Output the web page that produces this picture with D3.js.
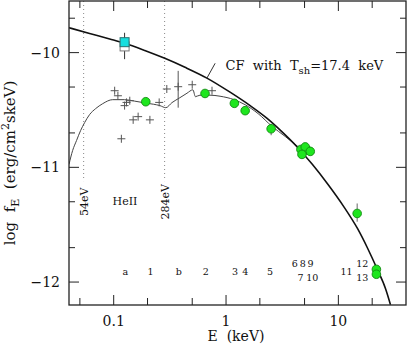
<!DOCTYPE html>
<html>
<head>
<meta charset="utf-8">
<script src="https://cdn.jsdelivr.net/npm/d3@7"></script>
<style>
  body { margin: 0; background: #fff; }
  svg { display: block; }
  text { font-family: "DejaVu Serif", serif; fill: #111; white-space: pre; }
</style>
</head>
<body>
<div id="chart"></div>
<script>
// CF model curve (thick)
const cfE    = [0.04, 0.061, 0.0921, 0.123, 0.189, 0.285, 0.431, 0.676, 1.086, 1.638, 2.307, 3.035, 4.30, 5.86, 7.97, 11.09, 14.79, 18.16, 22.3, 26.3, 29.1];
const cfLogF = [-9.783, -9.833, -9.881, -9.916, -9.981, -10.050, -10.128, -10.222, -10.345, -10.462, -10.571, -10.675, -10.822, -10.974, -11.141, -11.338, -11.533, -11.703, -11.893, -12.058, -12.197];

// absorbed model (thin)
const modelE    = [0.04, 0.0431, 0.0467, 0.0508, 0.0551, 0.061, 0.0691, 0.0798, 0.098, 0.125, 0.154, 0.197, 0.258, 0.291, 0.330, 0.388, 0.449, 0.507, 0.534, 0.586, 0.719, 0.884, 1.178, 1.479, 1.931, 2.576, 3.364, 4.58];
const modelLogF = [-10.974, -10.853, -10.766, -10.678, -10.610, -10.540, -10.488, -10.445, -10.410, -10.410, -10.423, -10.441, -10.462, -10.480, -10.436, -10.393, -10.354, -10.324, -10.384, -10.371, -10.371, -10.380, -10.410, -10.454, -10.532, -10.644, -10.731, -10.835];

// soft X-ray points (crosses)
const softE    = [0.102, 0.109, 0.130, 0.139, 0.125, 0.149, 0.165, 0.210, 0.254, 0.117, 0.297, 0.375, 0.50, 0.75];
const softLogF = [-10.332, -10.376, -10.434, -10.419, -10.462, -10.586, -10.558, -10.586, -10.434, -10.751, -10.317, -10.297, -10.280, -10.332];
const softErrLo = [null, null, null, null, null, null, null, null, null, null, null, -10.48, null, null];
const softErrHi = [null, null, null, null, null, null, null, null, null, null, null, -10.159, null, null];

// observed fluxes (green circles)
const obsE     = [0.193, 0.65, 1.186, 1.48, 2.52, 5.3, 4.64, 5.07, 5.62, 4.74, 14.7, 21.8, 21.8];
const obsLogF  = [-10.428, -10.356, -10.442, -10.506, -10.664, -10.85, -10.844, -10.822, -10.861, -10.887, -11.402, -11.889, -11.932];
const obsErrLo = [null, null, null, null, -10.72, null, null, null, null, null, -11.474, null, null];
const obsErrHi = [null, null, null, null, -10.62, null, null, null, null, null, -11.315, null, null];

// EUV point (cyan / open square)
const euveE = [0.125];
const euveLogF = [-9.909];
const euveOpenLogF = [-9.946];
const euveErrLo = [-10.057];
const euveErrHi = [-9.827];

// absorption edges
const edgeE = [0.054, 0.284];
const edgeLabels = ["54eV", "284eV"];

// band labels along the bottom
const bandLabels = ["a", "1", "b", "2", "3", "4", "5", "6", "8", "9", "7", "10", "11", "12", "13"];
const bandE      = [0.127, 0.213, 0.38, 0.66, 1.20, 1.48, 2.47, 4.10, 4.82, 5.65, 4.60, 5.85, 11.8, 16.3, 16.3];
const bandLogF   = [-11.908, -11.908, -11.908, -11.908, -11.908, -11.908, -11.908, -11.844, -11.844, -11.844, -11.960, -11.960, -11.908, -11.844, -11.960];

// ticks
const xMajor = [0.1, 1, 10];
const xMinor = [0.05, 0.2, 0.5, 2, 5, 20];
const yMajor = [-10, -11, -12];
const yMinor = [-9.7, -10.3, -10.7, -11.3, -11.7];

const W = 407, H = 345;
const margin = {top: 1, right: 1, bottom: 40, left: 69},
      width = W - margin.left - margin.right,
      height = 305 - margin.top;

const svg = d3.select("#chart").append("svg")
  .attr("width", W).attr("height", H);
const g = svg.append("g").attr("transform", `translate(${margin.left},${margin.top})`);

const x = d3.scaleLog().domain([0.04, 40]).range([0, width]);
const y = d3.scaleLinear().domain([-12.2, -9.55]).range([height, 0]);

// clip
g.append("clipPath").attr("id", "clip")
  .append("rect").attr("width", width).attr("height", height);
const plot = g.append("g").attr("clip-path", "url(#clip)");

// edges (dotted lines)
plot.selectAll(".edge").data(edgeE).enter().append("line")
  .attr("x1", d => x(d)).attr("x2", d => x(d))
  .attr("y1", 0).attr("y2", y(-11.12))
  .attr("stroke", "#888").attr("stroke-width", 1)
  .attr("stroke-dasharray", "1,3");

g.selectAll(".edgeLabel").data(edgeE).enter().append("text")
  .attr("transform", d => `translate(${x(d) + 4},${y(-11.30)}) rotate(-90)`)
  .attr("text-anchor", "middle")
  .style("font-size", "11px")
  .text((d, i) => edgeLabels[i]);

g.append("text")
  .attr("x", x(0.126)).attr("y", y(-11.292)).attr("dy", "0.35em")
  .attr("text-anchor", "middle").style("font-size", "11px")
  .text("HeII");

// thin model
const line = d3.line().x(d => x(d[0])).y(d => y(d[1])).curve(d3.curveMonotoneX);
plot.append("path")
  .datum(modelE.map((e, i) => [e, modelLogF[i]]))
  .attr("d", line).attr("fill", "none")
  .attr("stroke", "#444").attr("stroke-width", 1);

// thick CF curve
plot.append("path")
  .datum(cfE.map((e, i) => [e, cfLogF[i]]))
  .attr("d", line).attr("fill", "none")
  .attr("stroke", "#111").attr("stroke-width", 1.6);

// soft crosses
const soft = softE.map((e, i) => ({e, f: softLogF[i], lo: softErrLo[i], hi: softErrHi[i]}));
plot.selectAll(".softErr").data(soft.filter(d => d.lo !== null)).enter().append("line")
  .attr("x1", d => x(d.e)).attr("x2", d => x(d.e))
  .attr("y1", d => y(d.lo)).attr("y2", d => y(d.hi))
  .attr("stroke", "#555").attr("stroke-width", 1);
const cross = plot.selectAll(".cross").data(soft).enter().append("g")
  .attr("transform", d => `translate(${x(d.e)},${y(d.f)})`);
cross.append("line").attr("x1", -4).attr("x2", 4).attr("stroke", "#555");
cross.append("line").attr("y1", -4).attr("y2", 4).attr("stroke", "#555");

// EUV square with error bar
plot.selectAll(".euveErr").data(euveE).enter().append("line")
  .attr("x1", d => x(d)).attr("x2", d => x(d))
  .attr("y1", (d, i) => y(euveErrLo[i])).attr("y2", (d, i) => y(euveErrHi[i]))
  .attr("stroke", "#333");
plot.selectAll(".euveOpen").data(euveE).enter().append("rect")
  .attr("x", d => x(d) - 4.5).attr("y", (d, i) => y(euveOpenLogF[i]) - 4.5)
  .attr("width", 9).attr("height", 9)
  .attr("fill", "#fff").attr("stroke", "#777");
plot.selectAll(".euve").data(euveE).enter().append("rect")
  .attr("x", d => x(d) - 4.5).attr("y", (d, i) => y(euveLogF[i]) - 4.5)
  .attr("width", 9).attr("height", 9)
  .attr("fill", "#17dede").attr("stroke", "#2a6f6f");

// observed circles
const obs = obsE.map((e, i) => ({e, f: obsLogF[i], lo: obsErrLo[i], hi: obsErrHi[i]}));
plot.selectAll(".obsErr").data(obs.filter(d => d.lo !== null)).enter().append("line")
  .attr("x1", d => x(d.e)).attr("x2", d => x(d.e))
  .attr("y1", d => y(d.lo)).attr("y2", d => y(d.hi))
  .attr("stroke", "#666");
plot.selectAll(".obs").data(obs).enter().append("circle")
  .attr("cx", d => x(d.e)).attr("cy", d => y(d.f)).attr("r", 4.3)
  .attr("fill", "#1ee61e").attr("stroke", "#138a13").attr("stroke-width", 0.9);

// band labels
g.selectAll(".band").data(bandE).enter().append("text")
  .attr("x", d => x(d)).attr("y", (d, i) => y(bandLogF[i])).attr("dy", "0.35em")
  .attr("text-anchor", "middle").style("font-size", "9.5px")
  .text((d, i) => bandLabels[i]);

// CF label and pointer
g.append("line")
  .attr("x1", x(0.676)).attr("y1", y(-10.222))
  .attr("x2", x(0.80)).attr("y2", y(-10.093))
  .attr("stroke", "#333").attr("stroke-width", 1);
const cfLabel = g.append("text")
  .attr("x", x(0.99)).attr("y", y(-10.152))
  .style("font-size", "13px");
cfLabel.append("tspan").text("CF  with  T");
cfLabel.append("tspan").attr("dy", 4).style("font-size", "10px").text("sh");
cfLabel.append("tspan").attr("dy", -4).text("=17.4  keV");

// ticks
function xTicks(vals, len) {
  vals.forEach(v => {
    g.append("line").attr("x1", x(v)).attr("x2", x(v)).attr("y1", height).attr("y2", height - len).attr("stroke", "#222");
    g.append("line").attr("x1", x(v)).attr("x2", x(v)).attr("y1", 0).attr("y2", len).attr("stroke", "#222");
  });
}
function yTicks(vals, len) {
  vals.forEach(v => {
    g.append("line").attr("y1", y(v)).attr("y2", y(v)).attr("x1", 0).attr("x2", len).attr("stroke", "#222");
    g.append("line").attr("y1", y(v)).attr("y2", y(v)).attr("x1", width).attr("x2", width - len).attr("stroke", "#222");
  });
}
xTicks(xMajor, 10); xTicks(xMinor, 7);
yTicks(yMajor, 10); yTicks(yMinor, 6);

g.selectAll(".xlab").data(xMajor).enter().append("text")
  .attr("x", d => x(d)).attr("y", height + 21)
  .attr("text-anchor", "middle").style("font-size", "14px")
  .text(d => d3.format("~g")(d));
g.selectAll(".ylab").data(yMajor).enter().append("text")
  .attr("x", -9).attr("y", d => y(d)).attr("dy", "0.35em")
  .attr("text-anchor", "end").style("font-size", "14px")
  .text(d => "\u2212" + Math.abs(d));

// frame
g.append("rect").attr("width", width).attr("height", height)
  .attr("fill", "none").attr("stroke", "#222").attr("stroke-width", 1.3);

// axis titles
svg.append("text").attr("x", 236).attr("y", 341)
  .attr("text-anchor", "middle").style("font-size", "14px")
  .text("E  (keV)");
const yt = svg.append("text")
  .attr("transform", "translate(15,163) rotate(-90)")
  .attr("text-anchor", "middle").style("font-size", "15px");
yt.append("tspan").text("log  f");
yt.append("tspan").attr("dy", 4).style("font-size", "11px").text("E");
yt.append("tspan").attr("dy", -4).text("  (erg/cm");
yt.append("tspan").attr("dy", -6).style("font-size", "11px").text("2");
yt.append("tspan").attr("dy", 6).text("skeV)");
</script>
</body>
</html>
